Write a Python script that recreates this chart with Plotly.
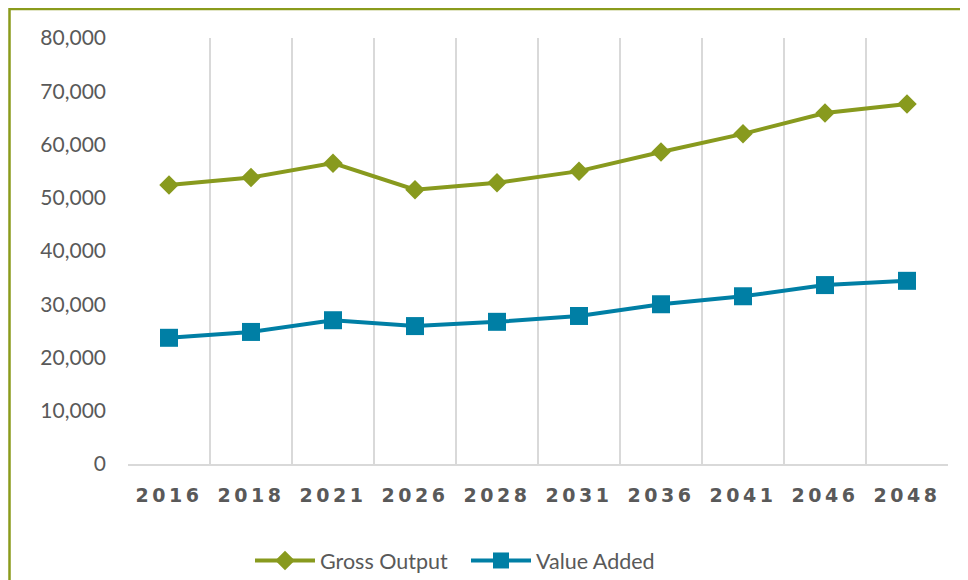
import plotly.graph_objects as go

years = ["2016", "2018", "2021", "2026", "2028", "2031", "2036", "2041", "2046", "2048"]
gross_output = [52400, 53800, 56500, 51500, 52800, 55000, 58600, 62000, 65900, 67600]
value_added = [23700, 24800, 27000, 25900, 26700, 27800, 30000, 31500, 33600, 34400]
y_ticks = [0, 10000, 20000, 30000, 40000, 50000, 60000, 70000, 80000]

olive = "#889A1E"
teal = "#007FA5"
grey_text = "#595959"
grid = "#D9D9D9"

fig = go.Figure()
fig.add_trace(go.Scatter(
    x=years, y=gross_output, name="Gross Output", mode="lines+markers",
    line=dict(color=olive, width=4),
    marker=dict(symbol="diamond", size=15, color=olive),
))
fig.add_trace(go.Scatter(
    x=years, y=value_added, name="Value Added", mode="lines+markers",
    line=dict(color=teal, width=4),
    marker=dict(symbol="square", size=18, color=teal),
))

# page offset (browser body margin)
OFF = 8
W, H = 968 - OFF, 580 - OFF
L, R, T, B = 128 - OFF, 20, 38 - OFF, 116
pw, ph = W - L - R, H - T - B

def px_to_paper_x(px):
    return (px - OFF - L) / pw

def px_to_paper_y(py):
    return (H - B - (py - OFF)) / ph

fig.add_shape(
    type="rect", xref="paper", yref="paper", layer="below",
    x0=px_to_paper_x(9.5), x1=px_to_paper_x(1000),
    y0=px_to_paper_y(620), y1=px_to_paper_y(9),
    line=dict(color="#8A9B1C", width=2.5), fillcolor="rgba(0,0,0,0)",
)

tick_text = ['<span style="letter-spacing:3.5px">%s</span>' % y for y in years]

fig.update_layout(
    width=W, height=H,
    margin=dict(l=L, r=R, t=T, b=B, autoexpand=False),
    paper_bgcolor="white", plot_bgcolor="white",
    font=dict(family="Lato, Open Sans, sans-serif", color=grey_text),
    showlegend=True,
    legend=dict(
        orientation="h", x=px_to_paper_x(250), y=px_to_paper_y(540),
        xanchor="left", yanchor="top",
        font=dict(size=21.5, color=grey_text, family="Lato, sans-serif"),
        itemwidth=60, tracegroupgap=0,
        entrywidth=141, entrywidthmode="pixels",
    ),
    xaxis=dict(
        type="category", tickson="boundaries", automargin=False,
        range=[-0.5, len(years) - 0.5],
        tickmode="array", tickvals=years, ticktext=tick_text,
        showgrid=True, gridcolor=grid, gridwidth=2,
        showline=True, linecolor=grid, linewidth=2,
        ticks="", ticklabelstandoff=13,
        tickfont=dict(family="DejaVu Sans, sans-serif", size=19, color=grey_text, weight="bold"),
        zeroline=False,
    ),
    yaxis=dict(
        range=[0, 80000], tickvals=y_ticks, tickformat=",", automargin=False,
        showgrid=False, zeroline=False, showline=False,
        ticks="", ticklabelstandoff=21,
        tickfont=dict(family="Lato, sans-serif", size=21, color=grey_text),
    ),
)

fig.write_html("out.html")
